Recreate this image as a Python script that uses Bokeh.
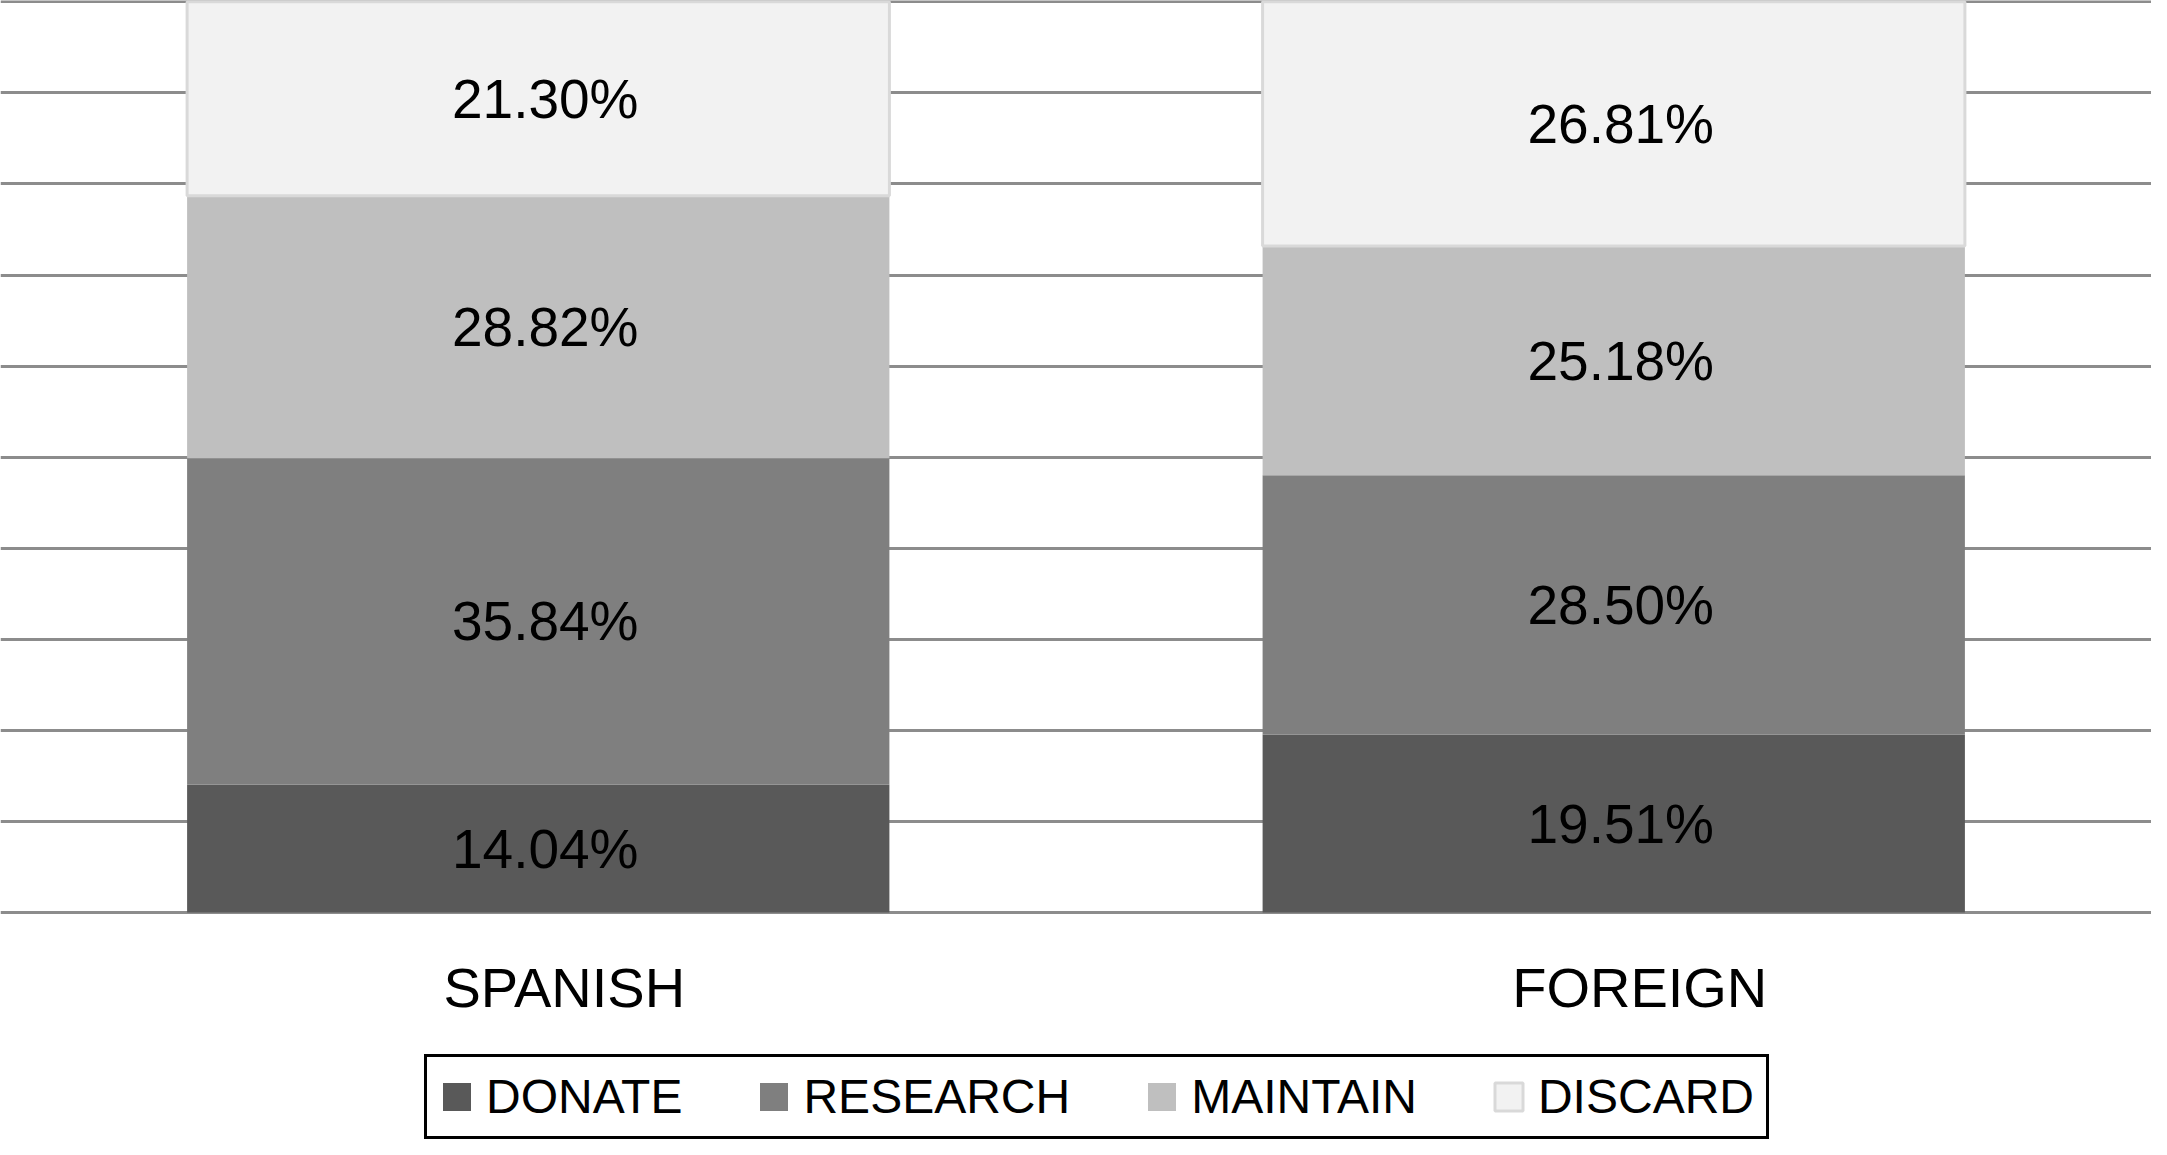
from bokeh.plotting import figure
from bokeh.models import ColumnDataSource, Legend, LegendItem, FactorRange, FixedTicker, Range1d
from bokeh.core.properties import value
from bokeh.embed import file_html
from bokeh.resources import INLINE

categories = ["SPANISH", "FOREIGN"]
series = ["DONATE", "RESEARCH", "MAINTAIN", "DISCARD"]
donate = [14.04, 19.51]
research = [35.84, 28.50]
maintain = [28.82, 25.18]
discard = [21.30, 26.81]
grid_ticks = [0, 10, 20, 30, 40, 50, 60, 70, 80, 90, 100]

fill_colors = ["#595959", "#7f7f7f", "#bfbfbf", "#f2f2f2"]
line_colors = ["#595959", "#7f7f7f", "#bfbfbf", "#d9d9d9"]
line_widths = [0, 0, 0, 3]

data = {"cat": categories, "DONATE": donate, "RESEARCH": research,
        "MAINTAIN": maintain, "DISCARD": discard}
src = ColumnDataSource(data)

# the frame extends below 0 so that category labels and legend sit inside it
p = figure(x_range=FactorRange(*categories), y_range=Range1d(-24.93, 100.15),
           width=2151, height=1139, output_backend="svg", toolbar_location=None,
           min_border=0, min_border_left=0, min_border_right=0, min_border_top=0,
           min_border_bottom=0)
p.outline_line_color = None
p.background_fill_color = "white"
p.border_fill_color = "white"
p.xaxis.visible = False
p.yaxis.visible = False
p.xgrid.visible = False
p.ygrid.ticker = FixedTicker(ticks=grid_ticks)
p.ygrid.grid_line_color = "#8c8c8c"
p.ygrid.grid_line_width = 3

renderers = p.vbar_stack(series, x="cat", width=0.653, source=src,
                         fill_color=fill_colors, line_color=line_colors,
                         line_width=line_widths)

# value labels
lx, ly, lt = [], [], []
for i, c in enumerate(categories):
    base = 0.0
    for arr in (donate, research, maintain, discard):
        v = arr[i]
        lx.append(c)
        ly.append(base + v / 2.0)
        lt.append("%.2f%%" % v)
        base += v
lsrc = ColumnDataSource(dict(x=lx, y=ly, t=lt))
p.text(x="x", y="y", text="t", source=lsrc, text_align="center",
       text_baseline="middle", x_offset=7, text_font=value("Liberation Sans"),
       text_font_size="55px", text_color="black")

# category labels
csrc = ColumnDataSource(dict(x=categories, y=[-8.24] * len(categories), t=categories))
p.text(x="x", y="y", text="t", source=csrc, text_align="center",
       text_baseline="middle", x_offset=26, text_font=value("Liberation Sans"),
       text_font_size="56px", text_color="black")

items = [LegendItem(label=s, renderers=[r]) for s, r in zip(series, renderers)]
legend = Legend(items=items, orientation="horizontal", location=(424, 0),
                border_line_color="black", border_line_width=3, border_line_alpha=1.0,
                background_fill_color="white", background_fill_alpha=1.0,
                glyph_width=35, glyph_height=35, label_standoff=12,
                spacing=74, padding=12, margin=0,
                label_text_font="Liberation Sans", label_text_font_size="48px",
                label_text_color="black", label_height=36)
p.add_layout(legend)

open("out.html", "w").write(file_html(p, INLINE))
